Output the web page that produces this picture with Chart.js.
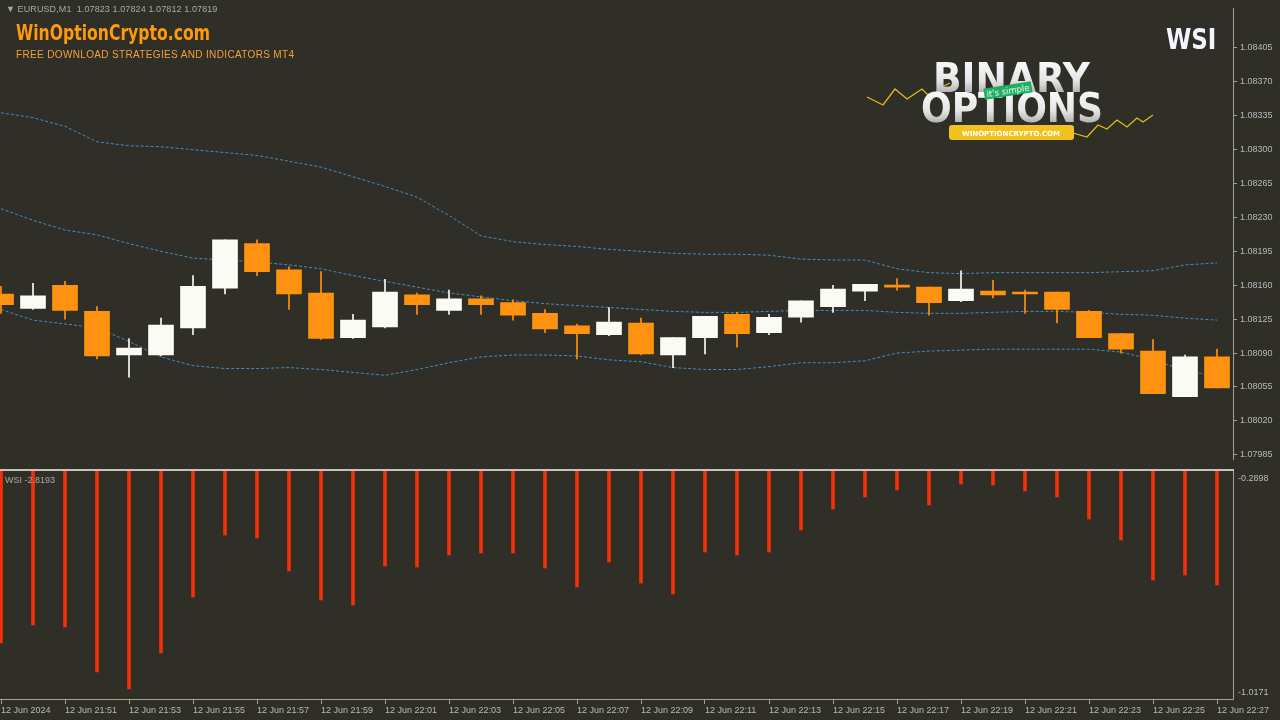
<!DOCTYPE html>
<html>
<head>
<meta charset="utf-8">
<script src="https://cdn.jsdelivr.net/npm/chart.js@4.4.0/dist/chart.umd.min.js"></script>
<style>
html, body { margin: 0; padding: 0; width: 1280px; height: 720px; overflow: hidden; background: #2f2f27; font-family: "Liberation Sans", Arial, sans-serif; }
canvas { position: absolute; }
#priceChart { left: -15px; top: 0; }
#wsiChart { left: -15px; top: 471px; }
.sep { position: absolute; left: 0; top: 469px; width: 1234px; height: 2px; background: #c4c4bc; }
.txt { position: absolute; white-space: nowrap; transform-origin: 0 0; }
#symbol { left: 6px; top: 4px; font-size: 9px; color: #a9a9ad; letter-spacing: 0.1px; }
#brand { left: 16px; top: 20px; font-size: 22px; font-weight: bold; color: #ff9a0a; font-family: "DejaVu Sans Condensed", "Liberation Sans Narrow", sans-serif; transform: scaleX(0.79); }
#tagline { left: 16px; top: 49px; font-size: 10px; color: #f2a23a; letter-spacing: 0.35px; }
#wsiName { left: 1166px; top: 22px; font-size: 29px; font-weight: bold; color: #f4f4ff; font-family: "DejaVu Sans Condensed", "Liberation Sans Narrow", sans-serif; transform: scaleX(0.88); }
#wsiLabel { left: 5px; top: 475px; font-size: 9px; color: #a9a9ad; }
#logo { position: absolute; left: 860px; top: 50px; }
</style>
</head>
<body>
<canvas id="priceChart" width="1295" height="468"></canvas>
<canvas id="wsiChart" width="1295" height="249"></canvas>
<div class="sep"></div>
<div class="txt" id="symbol">&#9660; EURUSD,M1&nbsp; 1.07823 1.07824 1.07812 1.07819</div>
<div class="txt" id="brand">WinOptionCrypto.com</div>
<div class="txt" id="tagline">FREE DOWNLOAD STRATEGIES AND INDICATORS MT4</div>
<div class="txt" id="wsiName">WSI</div>
<div class="txt" id="wsiLabel">WSI -2.8193</div>
<svg id="logo" width="300" height="100" viewBox="0 0 300 100">
  <defs>
    <linearGradient id="metal" x1="0" y1="0" x2="0" y2="1">
      <stop offset="0" stop-color="#ffffff"/>
      <stop offset="0.55" stop-color="#e6e6e6"/>
      <stop offset="1" stop-color="#8e8e8e"/>
    </linearGradient>
  </defs>
  <polyline points="7,47 23,55 35,39 47,49 62,39 72,49 80,38 90,33" fill="none" stroke="#e2bb1c" stroke-width="1.3"/>
  <polyline points="213,83 227,87 238,75 247,79 257,70 267,77 277,68 283,72 293,65" fill="none" stroke="#e2bb1c" stroke-width="1.3"/>
  <text x="73" y="42" textLength="157" lengthAdjust="spacingAndGlyphs" font-family="DejaVu Sans" font-weight="bold" font-size="40" fill="url(#metal)">BINARY</text>
  <text x="61" y="72" textLength="182" lengthAdjust="spacingAndGlyphs" font-family="DejaVu Sans" font-weight="bold" font-size="40" fill="url(#metal)">OPTIONS</text>
  <g transform="rotate(-9 148 41)">
    <rect x="124" y="35" width="48" height="11" fill="#1fae5f"/>
    <text x="148" y="44" text-anchor="middle" font-family="DejaVu Sans" font-size="8.5" fill="#ffffff">it's simple</text>
  </g>
  <rect x="89" y="75" width="125" height="15" rx="3" fill="#f2c21c"/>
  <text x="151" y="86" text-anchor="middle" font-family="DejaVu Sans" font-weight="bold" font-size="7" fill="#ffffff">WINOPTIONCRYPTO.COM</text>
</svg>
<script>
// EURUSD M1 candles, 21:49 .. 22:27
const times = ['21:49', '21:50', '21:51', '21:52', '21:53', '21:54', '21:55', '21:56', '21:57', '21:58',
    '21:59', '22:00', '22:01', '22:02', '22:03', '22:04', '22:05', '22:06', '22:07', '22:08',
    '22:09', '22:10', '22:11', '22:12', '22:13', '22:14', '22:15', '22:16', '22:17', '22:18',
    '22:19', '22:20', '22:21', '22:22', '22:23', '22:24', '22:25', '22:26', '22:27'];

const opens = [1.08151, 1.08136, 1.08160, 1.08133, 1.08088, 1.08088, 1.08116, 1.08157, 1.08203, 1.08176,
    1.08152, 1.08106, 1.08117, 1.08150, 1.08134, 1.08146, 1.08142, 1.08131, 1.08118, 1.08109,
    1.08121, 1.08088, 1.08106, 1.08130, 1.08111, 1.08127, 1.08138, 1.08154, 1.08160, 1.08158,
    1.08144, 1.08154, 1.08153, 1.08153, 1.08133, 1.08110, 1.08092, 1.08045, 1.08086];
const highs = [1.08159, 1.08162, 1.08164, 1.08138, 1.08105, 1.08126, 1.08170, 1.08207, 1.08207, 1.08179,
    1.08174, 1.08130, 1.08166, 1.08152, 1.08155, 1.08149, 1.08145, 1.08135, 1.08120, 1.08137,
    1.08126, 1.08106, 1.08128, 1.08132, 1.08130, 1.08144, 1.08160, 1.08161, 1.08167, 1.08158,
    1.08175, 1.08165, 1.08155, 1.08153, 1.08134, 1.08110, 1.08104, 1.08088, 1.08094];
const lows = [1.08131, 1.08135, 1.08125, 1.08084, 1.08065, 1.08087, 1.08109, 1.08151, 1.08170, 1.08135,
    1.08104, 1.08105, 1.08116, 1.08130, 1.08130, 1.08130, 1.08124, 1.08111, 1.08084, 1.08108,
    1.08088, 1.08075, 1.08089, 1.08096, 1.08109, 1.08122, 1.08132, 1.08144, 1.08155, 1.08129,
    1.08143, 1.08147, 1.08131, 1.08121, 1.08106, 1.08090, 1.08048, 1.08045, 1.08054];
const closes = [1.08140, 1.08149, 1.08134, 1.08087, 1.08095, 1.08119, 1.08159, 1.08207, 1.08174, 1.08151,
    1.08105, 1.08124, 1.08153, 1.08140, 1.08146, 1.08140, 1.08129, 1.08115, 1.08110, 1.08122,
    1.08089, 1.08106, 1.08128, 1.08110, 1.08127, 1.08144, 1.08156, 1.08161, 1.08158, 1.08142,
    1.08156, 1.08150, 1.08151, 1.08135, 1.08106, 1.08094, 1.08048, 1.08086, 1.08054];

// bollinger bands
const upperBand = [1.08338, 1.08333, 1.08324, 1.08308, 1.08304, 1.08303, 1.08300, 1.08297, 1.08294, 1.08288,
    1.08282, 1.08272, 1.08262, 1.08251, 1.08232, 1.08211, 1.08205, 1.08202, 1.08200, 1.08197,
    1.08195, 1.08193, 1.08192, 1.08192, 1.08191, 1.08187, 1.08186, 1.08186, 1.08177, 1.08173,
    1.08172, 1.08173, 1.08173, 1.08173, 1.08173, 1.08174, 1.08175, 1.08181, 1.08183];
const middleBand = [1.08239, 1.08227, 1.08217, 1.08212, 1.08203, 1.08195, 1.08188, 1.08186, 1.08184, 1.08181,
    1.08177, 1.08170, 1.08164, 1.08158, 1.08152, 1.08148, 1.08144, 1.08141, 1.08139, 1.08137,
    1.08135, 1.08133, 1.08132, 1.08132, 1.08133, 1.08134, 1.08134, 1.08134, 1.08132, 1.08131,
    1.08131, 1.08132, 1.08133, 1.08133, 1.08132, 1.08130, 1.08129, 1.08126, 1.08124];
const lowerBand = [1.08135, 1.08124, 1.08120, 1.08116, 1.08102, 1.08086, 1.08077, 1.08074, 1.08074, 1.08075,
    1.08073, 1.08070, 1.08067, 1.08073, 1.08080, 1.08086, 1.08088, 1.08088, 1.08087, 1.08083,
    1.08081, 1.08075, 1.08073, 1.08073, 1.08076, 1.08080, 1.08080, 1.08082, 1.08090, 1.08092,
    1.08093, 1.08094, 1.08094, 1.08094, 1.08094, 1.08091, 1.08083, 1.08072, 1.08066];

// WSI histogram (lower window)
const wsiValues = [-0.8385, -0.7811, -0.7874, -0.9310, -0.9852, -0.8704, -0.6917, -0.4940, -0.5035, -0.6088,
    -0.7013, -0.7173, -0.5929, -0.5960, -0.5578, -0.5514, -0.5514, -0.5992, -0.6598, -0.5801,
    -0.6471, -0.6822, -0.5482, -0.5578, -0.5482, -0.4780, -0.4110, -0.3727, -0.3504, -0.3983,
    -0.3313, -0.3345, -0.3536, -0.3727, -0.4429, -0.5099, -0.6375, -0.6216, -0.6535];

// axis labels
const priceTicks = [1.08405, 1.08370, 1.08335, 1.08300, 1.08265, 1.08230, 1.08195,
    1.08160, 1.08125, 1.08090, 1.08055, 1.08020, 1.07985];
const priceRange = [1.07980, 1.084458];
const wsiTicks = [-0.2898, -1.0171];
const xTickLabels = ['12 Jun 2024', '12 Jun 21:51', '12 Jun 21:53', '12 Jun 21:55', '12 Jun 21:57',
    '12 Jun 21:59', '12 Jun 22:01', '12 Jun 22:03', '12 Jun 22:05', '12 Jun 22:07',
    '12 Jun 22:09', '12 Jun 22:11', '12 Jun 22:13', '12 Jun 22:15', '12 Jun 22:17',
    '12 Jun 22:19', '12 Jun 22:21', '12 Jun 22:23', '12 Jun 22:25', '12 Jun 22:27'];

// MT4-ish colours
const BULL = '#fbfbf6';
const BEAR = '#ff9210';
const BAND = '#3f8fbf';
const WSI_RED = '#f4300a';
const AXIS = '#a4a38c';
const TXT = '#b8b8be';
const FONT = { family: '"Liberation Sans", Arial, sans-serif', size: 9 };

const candleColors = opens.map((o, i) => closes[i] >= o ? BULL : BEAR);

function bandSet(values) {
    return {
        type: 'line',
        data: values,
        borderColor: BAND,
        borderWidth: 1,
        borderDash: [3, 2],
        pointRadius: 0,
        fill: false,
        tension: 0,
        order: 2
    };
}

// price window: candles + bands
new Chart(document.getElementById('priceChart').getContext('2d'), {
    type: 'bar',
    data: {
        labels: times,
        datasets: [
            {
                data: opens.map((o, i) => [o, closes[i]]),
                backgroundColor: candleColors,
                barThickness: 25,
                minBarLength: 2,
                grouped: false,
                order: 0
            },
            {
                data: lows.map((l, i) => [l, highs[i]]),
                backgroundColor: candleColors,
                barThickness: 1,
                grouped: false,
                order: 1
            },
            bandSet(upperBand),
            bandSet(middleBand),
            bandSet(lowerBand)
        ]
    },
    options: {
        responsive: false,
        animation: false,
        layout: { padding: 0, autoPadding: false },
        plugins: { legend: { display: false }, tooltip: { enabled: false } },
        scales: {
            x: { display: false, offset: true },
            y: {
                position: 'right',
                min: priceRange[0],
                max: priceRange[1],
                afterBuildTicks: s => { s.ticks = priceTicks.map(v => ({ value: v })); },
                afterFit: s => { s.width = 47; },
                border: { color: AXIS },
                grid: { drawOnChartArea: false, tickLength: 4, color: AXIS },
                ticks: { color: TXT, font: FONT, padding: 3, callback: v => v.toFixed(5) }
            }
        }
    }
});

// draws the two WSI scale labels just inside the window edges
const wsiAxisLabels = {
    id: 'wsiAxisLabels',
    afterDraw(chart) {
        const { ctx, chartArea, scales: { y } } = chart;
        ctx.save();
        ctx.font = '9px "Liberation Sans", Arial, sans-serif';
        ctx.fillStyle = TXT;
        ctx.textAlign = 'left';
        wsiTicks.forEach((v, i) => {
            const py = y.getPixelForValue(v);
            ctx.textBaseline = i === 0 ? 'top' : 'bottom';
            ctx.fillText(v.toFixed(4), chartArea.right + 5, i === 0 ? py + 3 : py - 2);
        });
        ctx.restore();
    }
};

// WSI window
new Chart(document.getElementById('wsiChart').getContext('2d'), {
    type: 'bar',
    data: {
        labels: times,
        datasets: [{
            data: wsiValues,
            backgroundColor: WSI_RED,
            barThickness: 3,
            clip: 0
        }]
    },
    options: {
        responsive: false,
        animation: false,
        layout: { padding: 0, autoPadding: false },
        plugins: { legend: { display: false }, tooltip: { enabled: false } },
        scales: {
            x: {
                offset: true,
                afterBuildTicks: s => { s.ticks = s.ticks.filter(t => t.value % 2 === 0); },
                afterFit: s => { s.height = 21; },
                border: { color: AXIS },
                grid: { offset: false, drawOnChartArea: false, tickLength: 5, color: AXIS },
                ticks: {
                    autoSkip: false, maxRotation: 0, align: 'start', padding: 1,
                    color: TXT, font: FONT,
                    callback: (v, i) => xTickLabels[i]
                }
            },
            y: {
                position: 'right',
                min: wsiTicks[1],
                max: wsiTicks[0],
                afterFit: s => { s.width = 47; },
                border: { color: AXIS },
                grid: { display: false },
                ticks: { display: false }
            }
        }
    },
    plugins: [wsiAxisLabels]
});
</script>
</body>
</html>
